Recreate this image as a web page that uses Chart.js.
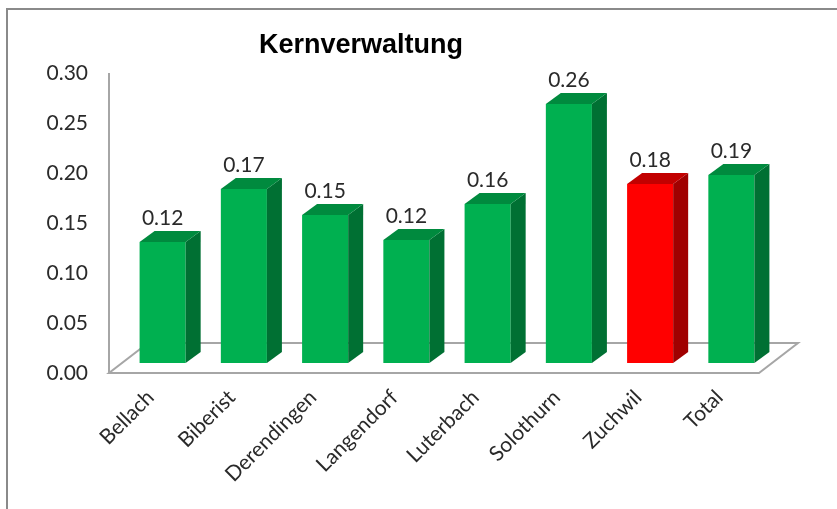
<!DOCTYPE html>
<html>
<head>
<meta charset="utf-8">
<script src="https://cdn.jsdelivr.net/npm/chart.js@4.4.1/dist/chart.umd.min.js"></script>
<style>
  html, body { margin: 0; padding: 0; background: #ffffff; }
  #wrap { width: 837px; height: 509px; position: relative; }
</style>
</head>
<body>
<div id="wrap"><canvas id="c" width="837" height="509"></canvas></div>
<script>
// ---- data ----
const titleText = 'Kernverwaltung';
const categories = ['Bellach', 'Biberist', 'Derendingen', 'Langendorf', 'Luterbach', 'Solothurn', 'Zuchwil', 'Total'];
const values = [0.121, 0.174, 0.148, 0.123, 0.159, 0.259, 0.179, 0.188];
const highlighted = ['Zuchwil'];
const yTicks = [0.00, 0.05, 0.10, 0.15, 0.20, 0.25, 0.30];

// ---- styles ----
const GREEN = { front: '#00b050', side: '#007033', top: '#008a3e' };
const RED   = { front: '#ff0000', side: '#a00000', top: '#c20000' };
const palette = categories.map(c => highlighted.includes(c) ? RED : GREEN);
const BAR_DX = 15, BAR_DY = 11;           // bar depth
const FRONT = { dx: -13, dy: 10 };        // floor front edge offset from chart plane
const BACK  = { dx: 26, dy: -20 };        // floor back edge offset from chart plane
const TEXT = '#2a2a2a';
const FONT = 'Lato, "Open Sans", sans-serif';

const threeD = {
  id: 'threeD',
  beforeDraw(chart) {
    const ctx = chart.ctx;
    ctx.save();
    ctx.fillStyle = '#ffffff';
    ctx.fillRect(0, 0, chart.width, chart.height);
    ctx.strokeStyle = '#8a8a8a';
    ctx.lineWidth = 2;
    ctx.beginPath();
    ctx.moveTo(7, chart.height);
    ctx.lineTo(7, 9);
    ctx.lineTo(chart.width, 9);
    ctx.stroke();
    ctx.restore();
  },
  beforeDatasetsDraw(chart) {
    const ctx = chart.ctx, a = chart.chartArea, ys = chart.scales.y;
    const y0 = ys.getPixelForValue(0);
    ctx.save();
    ctx.strokeStyle = '#a6a6a6';
    ctx.lineWidth = 2;
    ctx.fillStyle = '#ffffff';
    ctx.beginPath();
    ctx.moveTo(a.left + FRONT.dx, y0 + FRONT.dy);
    ctx.lineTo(a.right + FRONT.dx, y0 + FRONT.dy);
    ctx.lineTo(a.right + BACK.dx, y0 + BACK.dy);
    ctx.lineTo(a.left + BACK.dx, y0 + BACK.dy);
    ctx.closePath();
    ctx.fill();
    ctx.stroke();
    // vertical value axis on front plane
    ctx.beginPath();
    ctx.moveTo(a.left + FRONT.dx, ys.getPixelForValue(yTicks[yTicks.length - 1]) + FRONT.dy);
    ctx.lineTo(a.left + FRONT.dx, y0 + FRONT.dy);
    ctx.stroke();
    ctx.restore();
  },
  afterDatasetsDraw(chart) {
    const ctx = chart.ctx;
    const meta = chart.getDatasetMeta(0);
    ctx.save();
    meta.data.forEach((el, i) => {
      const p = el.getProps(['x', 'y', 'base', 'width'], true);
      const l = p.x - p.width / 2, r = p.x + p.width / 2;
      const col = palette[i];
      // side
      ctx.fillStyle = col.side;
      ctx.beginPath();
      ctx.moveTo(r, p.y);
      ctx.lineTo(r + BAR_DX, p.y - BAR_DY);
      ctx.lineTo(r + BAR_DX, p.base - BAR_DY);
      ctx.lineTo(r, p.base);
      ctx.closePath();
      ctx.fill();
      // top
      ctx.fillStyle = col.top;
      ctx.beginPath();
      ctx.moveTo(l, p.y);
      ctx.lineTo(r, p.y);
      ctx.lineTo(r + BAR_DX, p.y - BAR_DY);
      ctx.lineTo(l + BAR_DX, p.y - BAR_DY);
      ctx.closePath();
      ctx.fill();
      // value label
      ctx.fillStyle = TEXT;
      ctx.font = '21px ' + FONT;
      ctx.textAlign = 'center';
      ctx.textBaseline = 'alphabetic';
      ctx.fillText(values[i].toFixed(2), p.x, p.y - BAR_DY - 6);
    });
    // title
    ctx.fillStyle = '#000000';
    ctx.font = 'bold 27px "Liberation Sans", Arial, sans-serif';
    ctx.textAlign = 'center';
    ctx.fillText(titleText, 361, 53);
    ctx.restore();
  }
};

new Chart(document.getElementById('c'), {
  type: 'bar',
  data: {
    labels: categories,
    datasets: [{
      data: values,
      backgroundColor: palette.map(p => p.front),
      borderWidth: 0,
      barPercentage: 0.567,
      categoryPercentage: 1.0
    }]
  },
  options: {
    responsive: false,
    animation: false,
    layout: { padding: { top: 63, right: 65, bottom: 0, left: 0 } },
    plugins: { legend: { display: false }, title: { display: false }, tooltip: { enabled: false } },
    scales: {
      x: {
        grid: { display: false, drawTicks: false },
        border: { display: false },
        afterFit(s) { s.height = 146; },
        ticks: {
          color: TEXT,
          font: { family: FONT, size: 21 },
          minRotation: 45, maxRotation: 45,
          labelOffset: -12,
          padding: 22,
          autoSkip: false
        }
      },
      y: {
        min: 0, max: 0.30,
        grid: { display: false, drawTicks: false },
        border: { display: false },
        afterFit(s) { s.width = 122; },
        afterBuildTicks(s) { s.ticks = yTicks.map(v => ({ value: v })); },
        ticks: {
          color: TEXT,
          font: { family: FONT, size: 21 },
          padding: 34,
          labelOffset: 10,
          callback: v => Number(v).toFixed(2)
        }
      }
    }
  },
  plugins: [threeD]
});
</script>
</body>
</html>
